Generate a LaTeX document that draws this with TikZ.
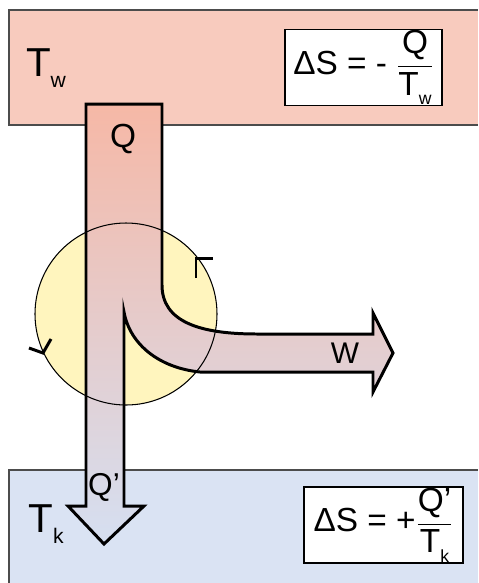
\documentclass[tikz,border=0pt]{standalone}
\usepackage{fontspec}
\setmainfont{Liberation Sans}
\usepackage{amsmath}
\usetikzlibrary{calc}
\definecolor{warm}{HTML}{F8CBBE}
\definecolor{cold}{HTML}{DAE3F3}
\definecolor{engine}{HTML}{FFF5BE}
\definecolor{flowtop}{HTML}{F6B8A6}
\definecolor{flowbot}{HTML}{D5DFF1}
\newcommand{\lowidx}[2][12]{\raisebox{-0.28em}{\fontsize{#1}{#1}\selectfont #2}}
\newcommand{\entfrac}[2]{$\dfrac{\text{#1}}{\text{#2}}$}
\tikzset{
  reservoir/.style={draw=black!70, line width=0.8pt},
  entropy/.style={draw, fill=white, line width=0.9pt, inner sep=0pt,
    minimum width=#1, minimum height=1.52cm, font=\fontsize{19}{22}\selectfont},
  templabel/.style={font=\fontsize{23}{26}\selectfont},
  flowlabel/.style={font=\fontsize{#1}{#1}\selectfont},
  flow/.style={line width=1.7pt, top color=flowtop, bottom color=flowbot},
  turn/.style={line width=1.7pt}
}
\begin{document}
\begin{tikzpicture}[x=0.02cm, y=-0.02cm]
\clip (0,0) rectangle (478,583);
% Reservoirs
\draw[reservoir, fill=warm] (9,10) rectangle (490,125);
\draw[reservoir, fill=cold] (9,470) rectangle (490,600);
\node[templabel] (tw) at (46,68) {T\lowidx{w}};
\node[templabel] (tk) at (46,524) {T\lowidx{k}};
\node[entropy=3.14cm] (dsw) at (363.5,67.5) {ΔS = - \entfrac{Q}{T\lowidx[10]{w}}};
\node[entropy=3.18cm] (dsk) at (383.5,525) {ΔS = +\entfrac{Q'}{T\lowidx[10]{k}}};
% Engine
\coordinate (eng) at (126,314);
\fill[engine] (eng) circle (91);
% Heat flow split into work and waste heat
\draw[flow] (86,104) -- (162,104) -- (162,285)
  .. controls (162,322) and (200,334) .. (257,334) -- (373,334)
  -- (373,313) -- (393,353) -- (373,392) -- (373,372) -- (200,372)
  .. controls (160,368) and (130,345) .. (124,312)
  -- (124,506) -- (144,506) -- (104,544) -- (68,506) -- (86,506) -- cycle;
\draw[line width=0.6pt] (eng) circle (91);
% Sense of rotation
\draw[turn] (196,278) -- (196,258) -- (213,258);
\draw[turn] (29,348) -- (43,353) -- (51,339);
% Labels
\node[flowlabel=19] (q) at (123,139) {Q};
\node[flowlabel=17] (w) at (345,353) {W};
\node[flowlabel=18] (qk) at (104,487) {Q'};
\end{tikzpicture}
\end{document}
